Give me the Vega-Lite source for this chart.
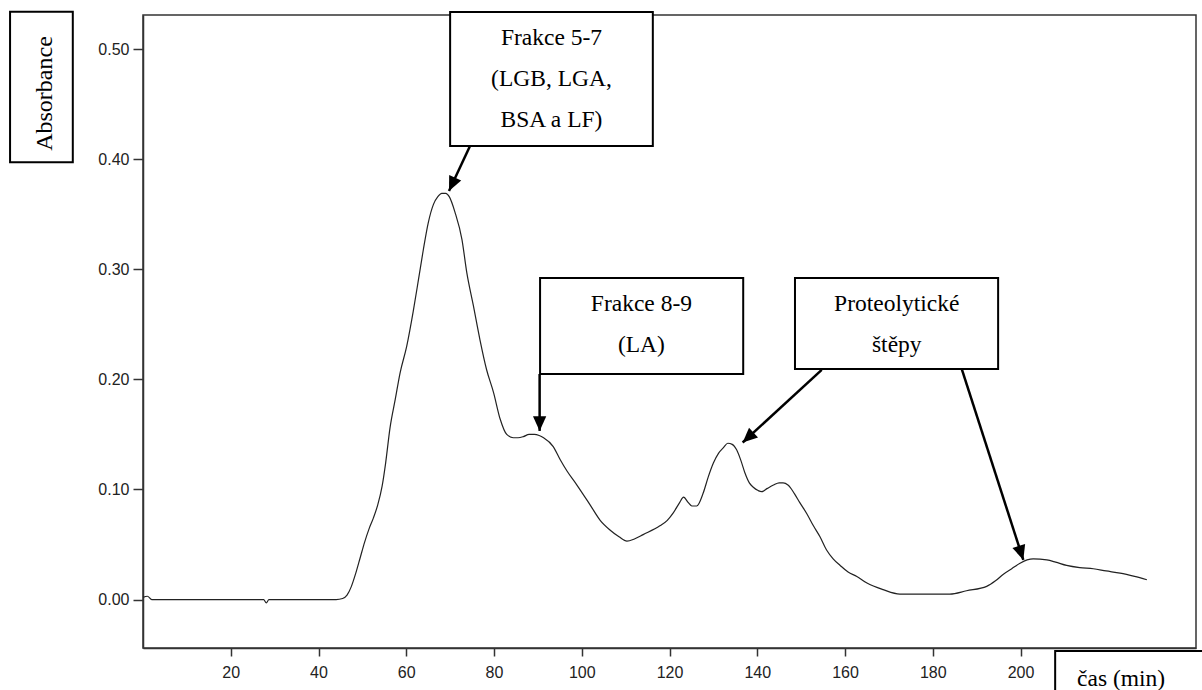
{
  "$schema": "https://vega.github.io/schema/vega-lite/v6.json",
  "autosize": {"type": "none"},
  "width": 1053,
  "height": 633,
  "padding": {"left": 143, "top": 15, "right": 6, "bottom": 42},
  "background": "white",
  "config": {
    "view": {"stroke": "#333", "strokeWidth": 1.5},
    "axis": {
      "domainColor": "#333", "domainWidth": 1.5,
      "tickColor": "#333", "tickWidth": 1.5,
      "labelFont": "Liberation Sans Narrow, Liberation Sans, sans-serif",
      "labelFontSize": 16, "labelColor": "#222", "grid": false, "title": null
    }
  },
  "datasets": {
    "curve": [
      {"t": 0, "a": 0.002}, {"t": 1.0, "a": 0.003}, {"t": 2.0, "a": 0.0}, {"t": 5, "a": 0.0},
      {"t": 10, "a": 0.0}, {"t": 20, "a": 0.0}, {"t": 27.5, "a": 0.0}, {"t": 28.1, "a": -0.003},
      {"t": 28.7, "a": 0.0}, {"t": 35, "a": 0.0}, {"t": 40, "a": 0.0}, {"t": 44, "a": 0.0},
      {"t": 45.5, "a": 0.001}, {"t": 46.5, "a": 0.004}, {"t": 47.5, "a": 0.012}, {"t": 48.5, "a": 0.024},
      {"t": 49.5, "a": 0.038}, {"t": 50.5, "a": 0.052}, {"t": 51.5, "a": 0.064}, {"t": 52.5, "a": 0.074},
      {"t": 53.5, "a": 0.086}, {"t": 54.5, "a": 0.103}, {"t": 55.3, "a": 0.124}, {"t": 56.3, "a": 0.156},
      {"t": 57.5, "a": 0.182}, {"t": 58.6, "a": 0.206}, {"t": 60.1, "a": 0.23}, {"t": 61.6, "a": 0.262},
      {"t": 62.8, "a": 0.291}, {"t": 63.9, "a": 0.318}, {"t": 65.0, "a": 0.342}, {"t": 66.2, "a": 0.359},
      {"t": 67.2, "a": 0.366}, {"t": 68.1, "a": 0.369}, {"t": 69.0, "a": 0.369}, {"t": 69.8, "a": 0.366},
      {"t": 71.1, "a": 0.352}, {"t": 72.7, "a": 0.327}, {"t": 73.8, "a": 0.297}, {"t": 75.3, "a": 0.267},
      {"t": 76.8, "a": 0.236}, {"t": 78.3, "a": 0.209}, {"t": 79.9, "a": 0.188}, {"t": 81.4, "a": 0.164},
      {"t": 82.9, "a": 0.15}, {"t": 84.4, "a": 0.147}, {"t": 85.5, "a": 0.147}, {"t": 86.7, "a": 0.148},
      {"t": 88.0, "a": 0.15}, {"t": 89.2, "a": 0.15}, {"t": 90.3, "a": 0.149}, {"t": 91.3, "a": 0.147},
      {"t": 93.5, "a": 0.139}, {"t": 95.1, "a": 0.127}, {"t": 96.6, "a": 0.117}, {"t": 98.9, "a": 0.104},
      {"t": 101.9, "a": 0.086}, {"t": 104.2, "a": 0.072}, {"t": 106.5, "a": 0.063}, {"t": 108.5, "a": 0.057},
      {"t": 110.3, "a": 0.053}, {"t": 112.0, "a": 0.055}, {"t": 114.0, "a": 0.059}, {"t": 117.8, "a": 0.067},
      {"t": 119.5, "a": 0.072}, {"t": 120.9, "a": 0.079}, {"t": 122.3, "a": 0.088}, {"t": 123.2, "a": 0.093},
      {"t": 124.3, "a": 0.088}, {"t": 125.1, "a": 0.085}, {"t": 126.2, "a": 0.085}, {"t": 127.7, "a": 0.097},
      {"t": 128.8, "a": 0.111}, {"t": 130.0, "a": 0.124}, {"t": 131.2, "a": 0.133}, {"t": 132.3, "a": 0.138},
      {"t": 133.3, "a": 0.142}, {"t": 134.3, "a": 0.141}, {"t": 135.3, "a": 0.136}, {"t": 136.3, "a": 0.126},
      {"t": 137.2, "a": 0.115}, {"t": 138.2, "a": 0.106}, {"t": 139.1, "a": 0.102}, {"t": 140.2, "a": 0.099},
      {"t": 141.0, "a": 0.098}, {"t": 142.3, "a": 0.101}, {"t": 143.7, "a": 0.104}, {"t": 145.0, "a": 0.106},
      {"t": 145.9, "a": 0.106}, {"t": 147.0, "a": 0.104}, {"t": 147.5, "a": 0.102}, {"t": 148.5, "a": 0.096},
      {"t": 149.7, "a": 0.088}, {"t": 151.3, "a": 0.078}, {"t": 152.8, "a": 0.067}, {"t": 154.3, "a": 0.057},
      {"t": 155.8, "a": 0.045}, {"t": 157.3, "a": 0.037}, {"t": 158.9, "a": 0.031}, {"t": 160.7, "a": 0.025},
      {"t": 162.7, "a": 0.021}, {"t": 165.0, "a": 0.015}, {"t": 168.7, "a": 0.009}, {"t": 172.5, "a": 0.005},
      {"t": 178, "a": 0.005}, {"t": 183.9, "a": 0.005}, {"t": 187.7, "a": 0.008}, {"t": 192.3, "a": 0.012},
      {"t": 194.3, "a": 0.017}, {"t": 196.1, "a": 0.023}, {"t": 198.0, "a": 0.028}, {"t": 199.9, "a": 0.033},
      {"t": 201.5, "a": 0.036}, {"t": 202.9, "a": 0.037}, {"t": 206.0, "a": 0.036}, {"t": 208.0, "a": 0.034},
      {"t": 210.5, "a": 0.031}, {"t": 213.5, "a": 0.029}, {"t": 216.6, "a": 0.028}, {"t": 219.5, "a": 0.026},
      {"t": 222.7, "a": 0.024}, {"t": 226.0, "a": 0.021}, {"t": 228.8, "a": 0.018}
    ],
    "boxes": [
      {"t": 70.0, "t2": 116.2, "a": 0.5337, "a2": 0.412},
      {"t": 90.5, "t2": 136.8, "a": 0.2921, "a2": 0.2049},
      {"t": 148.6, "t2": 194.9, "a": 0.2921, "a2": 0.2095},
      {"t": 207.9, "t2": 265, "a": -0.0467, "a2": -0.1},
      {"t": -30.3, "t2": -16.0, "a": 0.534, "a2": 0.3972}
    ],
    "arrows": [
      {"t": 74.53, "a": 0.412, "t2": 69.74, "a2": 0.3711},
      {"t": 90.4, "a": 0.2049, "t2": 90.4, "a2": 0.1532},
      {"t": 154.69, "a": 0.2086, "t2": 136.68, "a2": 0.1427},
      {"t": 186.6, "a": 0.2095, "t2": 200.64, "a2": 0.036}
    ],
    "notes": [
      {"t": 93.1, "a": 0.5038, "label": "Frakce 5-7\n(LGB, LGA,\nBSA a LF)"},
      {"t": 113.6, "a": 0.2617, "label": "Frakce 8-9\n(LA)"},
      {"t": 171.8, "a": 0.2621, "label": "Proteolytické\nštěpy"}
    ]
  },
  "layer": [
    {
      "data": {"name": "curve"},
      "mark": {"type": "line", "color": "#222", "strokeWidth": 1.2, "interpolate": "monotone"},
      "encoding": {
        "x": {"field": "t", "type": "quantitative", "scale": {"domain": [0, 240], "nice": false, "zero": false},
              "axis": {"values": [20, 40, 60, 80, 100, 120, 140, 160, 180, 200], "format": "d", "tickSize": 8, "labelPadding": 8}},
        "y": {"field": "a", "type": "quantitative", "scale": {"domain": [-0.044, 0.531], "nice": false, "zero": false},
              "axis": {"values": [0, 0.1, 0.2, 0.3, 0.4, 0.5], "format": ".2f", "tickSize": 10, "labelPadding": 4}}
      }
    },
    {
      "data": {"name": "boxes"},
      "mark": {"type": "rect", "fill": "white", "stroke": "black", "strokeWidth": 2, "clip": false},
      "encoding": {
        "x": {"field": "t", "type": "quantitative", "scale": {"domain": [0, 240], "nice": false, "zero": false}},
        "x2": {"field": "t2"},
        "y": {"field": "a", "type": "quantitative", "scale": {"domain": [-0.044, 0.531], "nice": false, "zero": false}},
        "y2": {"field": "a2"}
      }
    },
    {
      "data": {"name": "arrows"},
      "mark": {"type": "rule", "color": "black", "strokeWidth": 2.5, "clip": false},
      "encoding": {
        "x": {"field": "t", "type": "quantitative"},
        "x2": {"field": "t2"},
        "y": {"field": "a", "type": "quantitative"},
        "y2": {"field": "a2"}
      }
    },
    {
      "data": {"values": [{"t": 69.74, "a": 0.3711}]},
      "mark": {"type": "point", "shape": "M0,0L-0.95,-2.1L0.95,-2.1Z", "filled": true, "color": "black", "opacity": 1, "size": 196, "angle": 25, "clip": false},
      "encoding": {"x": {"field": "t", "type": "quantitative"}, "y": {"field": "a", "type": "quantitative"}}
    },
    {
      "data": {"values": [{"t": 90.4, "a": 0.1532}]},
      "mark": {"type": "point", "shape": "M0,0L-0.95,-2.1L0.95,-2.1Z", "filled": true, "color": "black", "opacity": 1, "size": 196, "angle": 0, "clip": false},
      "encoding": {"x": {"field": "t", "type": "quantitative"}, "y": {"field": "a", "type": "quantitative"}}
    },
    {
      "data": {"values": [{"t": 136.68, "a": 0.1427}]},
      "mark": {"type": "point", "shape": "M0,0L-0.95,-2.1L0.95,-2.1Z", "filled": true, "color": "black", "opacity": 1, "size": 196, "angle": 47.5, "clip": false},
      "encoding": {"x": {"field": "t", "type": "quantitative"}, "y": {"field": "a", "type": "quantitative"}}
    },
    {
      "data": {"values": [{"t": 200.64, "a": 0.036}]},
      "mark": {"type": "point", "shape": "M0,0L-0.95,-2.1L0.95,-2.1Z", "filled": true, "color": "black", "opacity": 1, "size": 196, "angle": -17.9, "clip": false},
      "encoding": {"x": {"field": "t", "type": "quantitative"}, "y": {"field": "a", "type": "quantitative"}}
    },
    {
      "data": {"name": "notes"},
      "mark": {"type": "text", "font": "Liberation Serif, serif", "fontSize": 23.5, "color": "black", "align": "center", "baseline": "alphabetic", "lineBreak": "\n", "lineHeight": 41, "clip": false},
      "encoding": {
        "x": {"field": "t", "type": "quantitative"},
        "y": {"field": "a", "type": "quantitative"},
        "text": {"field": "label"}
      }
    },
    {
      "data": {"values": [{"t": 212.9, "a": -0.0785, "label": "čas (min)"}]},
      "mark": {"type": "text", "font": "Liberation Serif, serif", "fontSize": 23.5, "color": "black", "align": "left", "baseline": "alphabetic", "clip": false},
      "encoding": {
        "x": {"field": "t", "type": "quantitative"},
        "y": {"field": "a", "type": "quantitative"},
        "text": {"field": "label"}
      }
    },
    {
      "data": {"values": [{"t": -22.4, "a": 0.4597, "label": "Absorbance"}]},
      "mark": {"type": "text", "font": "Liberation Serif, serif", "fontSize": 24, "color": "black", "align": "center", "baseline": "middle", "angle": 270, "clip": false},
      "encoding": {
        "x": {"field": "t", "type": "quantitative"},
        "y": {"field": "a", "type": "quantitative"},
        "text": {"field": "label"}
      }
    }
  ]
}
